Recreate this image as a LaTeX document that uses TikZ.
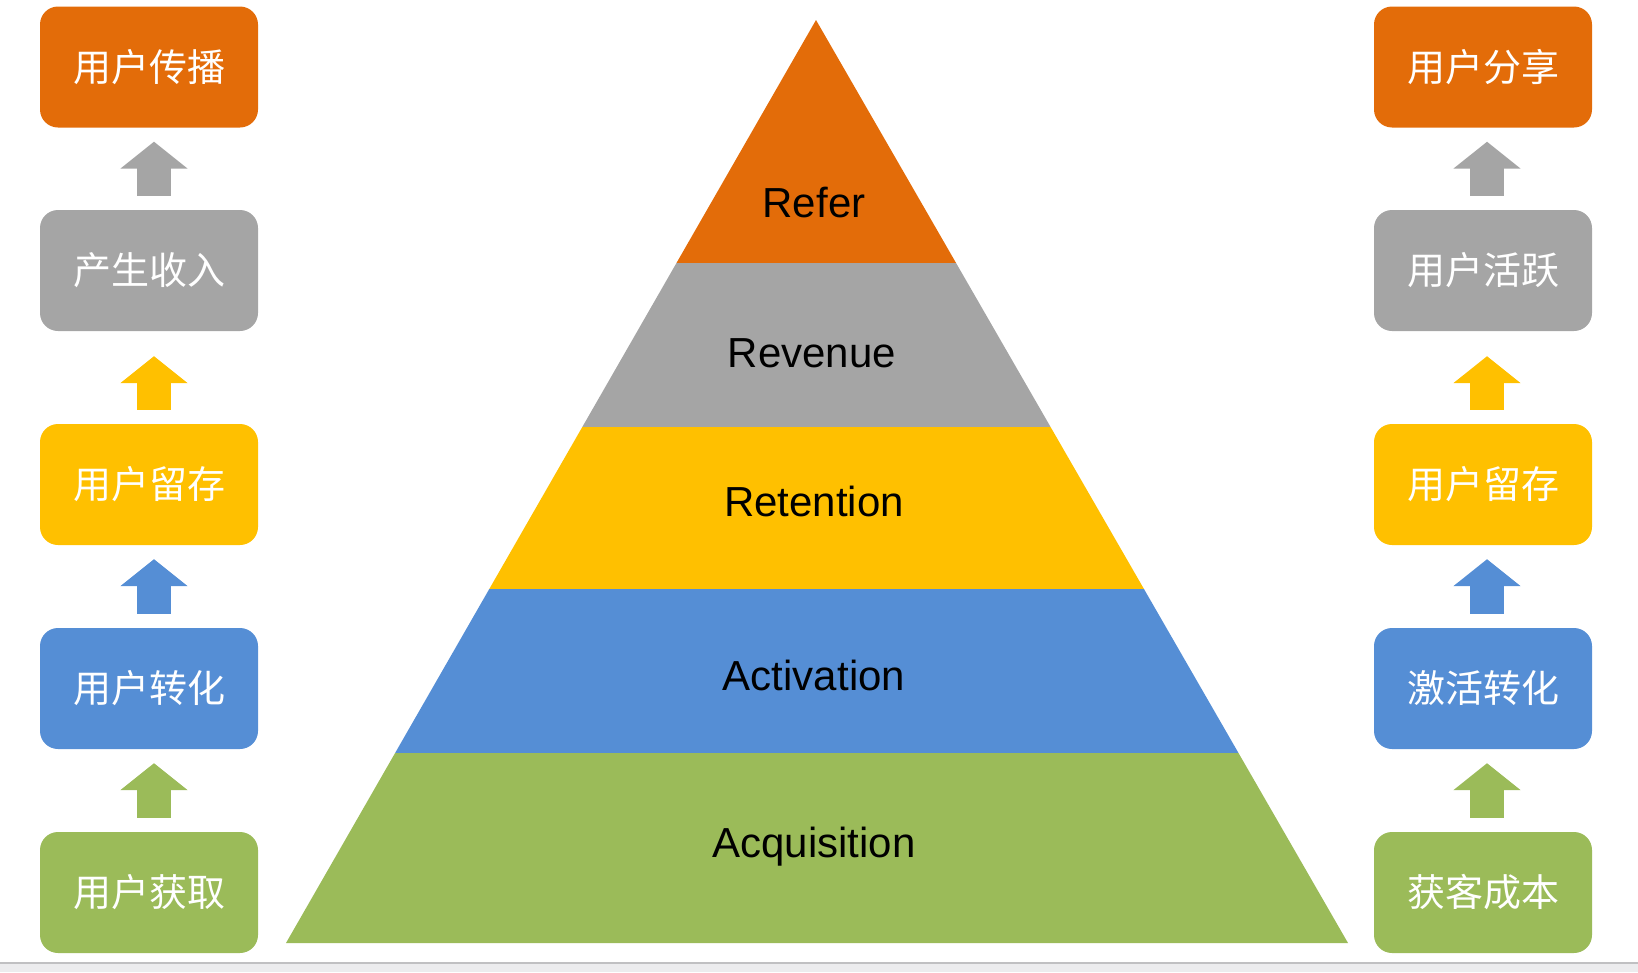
\documentclass[tikz,border=0pt]{standalone}
\usepackage{fontspec}
\setmainfont{Liberation Sans}
\newfontfamily\cjk{Noto Sans CJK SC}
\usetikzlibrary{arrows.meta,positioning,calc}

\definecolor{referorange}{HTML}{E36C09}
\definecolor{revenuegray}{HTML}{A5A5A5}
\definecolor{retentionyellow}{HTML}{FFC000}
\definecolor{activationblue}{HTML}{558ED5}
\definecolor{acquisitiongreen}{HTML}{9BBB59}
\definecolor{edgegray}{HTML}{C0C0C2}
\definecolor{stripgray}{HTML}{ECECEE}

\begin{document}
\begin{tikzpicture}[x=1pt,y=-1pt,
	stagebox/.style={fill=#1,rounded corners=18pt,minimum width=218pt,minimum height=121pt,inner sep=0pt,text=white,font=\cjk\fontsize{38}{40}\selectfont},
	uparrow/.style={draw=#1,line width=34pt,-{Triangle[width=66pt,length=27pt]},shorten <=14pt},
	layerlabel/.style={text=black,font=\fontsize{42}{46}\selectfont}]
									\useasboundingbox (0,0) rectangle (1638,972);
									
									% pyramid
									\coordinate (apex) at (816,20);
									\coordinate (baseL) at (286,943);
									\coordinate (baseR) at (1348,943);
									\begin{scope}
										\clip (apex) -- (baseL) -- (baseR) -- cycle;
										\fill[referorange] (250,0) rectangle (1400,263);
										\fill[revenuegray] (250,263) rectangle (1400,427);
										\fill[retentionyellow] (250,427) rectangle (1400,589);
										\fill[activationblue] (250,589) rectangle (1400,753);
										\fill[acquisitiongreen] (250,753) rectangle (1400,950);
									\end{scope}
									
									\node[layerlabel](refer) at (814,203){Refer};
									\node[layerlabel](revenue) at (812,353){Revenue};
									\node[layerlabel](retention) at (814,501){Retention};
									\node[layerlabel](activation) at (814,675){Activation};
									\node[layerlabel](acquisition) at (814,847){Acquisition};
									
									% left column
									\foreach \t/\c/\y [count=\n] in {用户获取/acquisitiongreen/892.5,用户转化/activationblue/688.5,用户留存/retentionyellow/484.5,产生收入/revenuegray/270.5,用户传播/referorange/67}
										\node[stagebox=\c](L\n) at (149,\y){\t};
									
									% right column
									\foreach \t/\c/\y [count=\n] in {获客成本/acquisitiongreen/892.5,激活转化/activationblue/688.5,用户留存/retentionyellow/484.5,用户活跃/revenuegray/270.5,用户分享/referorange/67}
										\node[stagebox=\c](R\n) at (1483,\y){\t};
									
									\foreach \c/\s [count=\n, evaluate=\n as \m using int(\n+1)] in {acquisitiongreen/14,activationblue/14,retentionyellow/25,revenuegray/14} {
										\draw[uparrow=\c,shorten >=\s pt] ([xshift=5pt]L\n.north) -- ([xshift=5pt]L\m.south);
										\draw[uparrow=\c,shorten >=\s pt] ([xshift=4pt]R\n.north) -- ([xshift=4pt]R\m.south);
									}
									
									% bottom edge
									\fill[edgegray] (0,962) rectangle (1638,964);
									\fill[stripgray] (0,964) rectangle (1638,972);
								\end{tikzpicture}
\end{document}
